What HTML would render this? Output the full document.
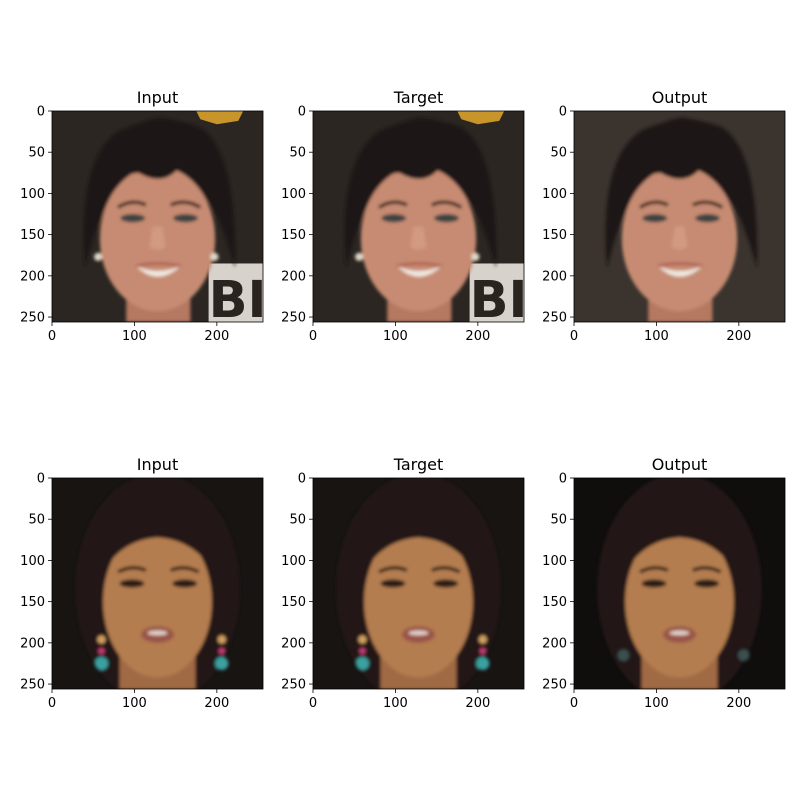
<!DOCTYPE html>
<html><head><meta charset="utf-8"><style>
body{margin:0;background:#fff;}
svg{display:block;font-family:"DejaVu Sans","Liberation Sans",sans-serif;}
</style></head><body>
<svg id="fig" width="800" height="800" viewBox="0 0 800 800" xmlns="http://www.w3.org/2000/svg">
<defs>
<filter id="bs" x="-20%" y="-20%" width="140%" height="140%"><feGaussianBlur stdDeviation="2"/></filter>
<clipPath id="cp"><rect x="0" y="0" width="256" height="256"/></clipPath>
</defs>
</svg>
<script>
const titles = ["Input","Target","Output","Input","Target","Output"];
const xTicks = [0,100,200];
const yTicks = [0,50,100,150,200,250];
const imgSize = 256;
const colLeft = [52,313,574];
const rowTop = [111,478];
const S = 211/256;
const NS = "http://www.w3.org/2000/svg";
const svg = document.getElementById('fig');
function el(t,a,p){const e=document.createElementNS(NS,t);for(const k in a)e.setAttribute(k,a[k]);(p||svg).appendChild(e);return e;}

function faceTop(g, output){
  el('rect',{x:0,y:0,width:256,height:256,fill:output?'#3a332e':'#2b2622'},g);
  if(!output){
    el('path',{d:'M175 0 L232 0 L226 12 L200 16 L180 10 Z',fill:'#c8952a'},g);
    el('rect',{x:190,y:185,width:66,height:71,fill:'#d8d2cc'},g);
    el('text',{x:190,y:250,'font-size':62,'font-weight':'bold',fill:'#2a2420','font-family':'DejaVu Sans'},g).textContent='BI';
  }
  const f=el('g',{filter:'url(#bs)'},g);
  el('rect',{x:90,y:215,width:78,height:41,fill:'#b57860'},f);
  el('path',{d:'M40 190 Q30 60 80 25 Q130 0 180 20 Q225 50 222 190 Q205 130 190 110 L70 110 Q55 130 40 190 Z',fill:'#1e1612'},f);
  el('ellipse',{cx:128,cy:155,rx:70,ry:88,fill:'#c68b72'},f);
  el('path',{d:'M52 110 Q60 20 130 8 Q210 15 212 105 Q195 65 160 60 Q140 95 105 75 Q80 75 62 110 Z',fill:'#1e1612'},f);
  el('ellipse',{cx:98,cy:130,rx:15,ry:5,fill:'#3e4242'},f);
  el('ellipse',{cx:162,cy:130,rx:15,ry:5,fill:'#3e4242'},f);
  el('path',{d:'M80 117 Q97 106 114 114',stroke:'#3a2418','stroke-width':4,fill:'none'},f);
  el('path',{d:'M144 114 Q162 106 180 117',stroke:'#3a2418','stroke-width':4,fill:'none'},f);
  el('path',{d:'M122 140 L118 165 Q128 172 138 165 L134 140',fill:'#d29a80'},f);
  el('path',{d:'M102 188 Q128 200 156 188 Q128 214 102 188 Z',fill:'#f0e8e0'},f);
  el('path',{d:'M102 188 Q128 182 156 188',stroke:'#b05a50','stroke-width':3,fill:'none'},f);
  if(!output){el('circle',{cx:56,cy:177,r:5,fill:'#e0d8c8'},f);el('circle',{cx:197,cy:177,r:5,fill:'#e0d8c8'},f);}
}
function faceBot(g, output){
  el('rect',{x:0,y:0,width:256,height:256,fill:output?'#0f0e0d':'#171412'},g);
  const f=el('g',{filter:'url(#bs)'},g);
  el('ellipse',{cx:128,cy:135,rx:100,ry:140,fill:'#201812'},f);
  el('rect',{x:82,y:205,width:92,height:51,fill:'#a06a45'},f);
  el('ellipse',{cx:128,cy:150,rx:66,ry:92,fill:'#b47d50'},f);
  el('path',{d:'M58 120 Q65 45 128 38 Q192 45 200 120 Q175 75 128 72 Q82 75 58 120 Z',fill:'#201812'},f);
  el('ellipse',{cx:97,cy:128,rx:15,ry:5,fill:'#2a1e18'},f);
  el('ellipse',{cx:161,cy:128,rx:15,ry:5,fill:'#2a1e18'},f);
  el('path',{d:'M80 114 Q97 105 114 112',stroke:'#2a1a12','stroke-width':4,fill:'none'},f);
  el('path',{d:'M144 112 Q161 105 178 114',stroke:'#2a1a12','stroke-width':4,fill:'none'},f);
  el('ellipse',{cx:128,cy:190,rx:20,ry:10,fill:'#9a5548'},f);
  el('ellipse',{cx:128,cy:188,rx:12,ry:3,fill:'#e0d0c8'},f);
  if(!output){
    [60,206].forEach(x=>{el('circle',{cx:x,cy:196,r:5,fill:'#d0a060'},f);el('circle',{cx:x,cy:210,r:4,fill:'#c03a70'},f);el('circle',{cx:x,cy:225,r:8,fill:'#3aa0a0'},f);});
  } else {
    [60,206].forEach(x=>{el('circle',{cx:x,cy:215,r:7,fill:'#3a5050'},f);});
  }
}

titles.forEach((t,i)=>{
  const r=Math.floor(i/3), c=i%3;
  const x0=colLeft[c], y0=rowTop[r];
  const ax=el('g',{});
  
  
  const img=el('g',{transform:`translate(${x0},${y0}) scale(${S})`,'clip-path':'url(#cp)'},ax);
  
  
  if(r===0) faceTop(img, c===2); else faceBot(img, c===2);
  const W=imgSize*S;
  el('rect',{x:x0,y:y0,width:W,height:W,fill:'none',stroke:'#000','stroke-width':0.8},ax);
  const tt=el('text',{x:x0+W/2,y:y0-8,'text-anchor':'middle','font-size':16},ax);
  
  
  tt.textContent=t;
  xTicks.forEach(v=>{
    const x=x0+v*S;
    el('line',{x1:x,y1:y0+W,x2:x,y2:y0+W+4,stroke:'#000','stroke-width':0.8},ax);
    const l=el('text',{x:x,y:y0+W+18,'text-anchor':'middle','font-size':13},ax);
    
    
    l.textContent=v;
  });
  yTicks.forEach(v=>{
    const y=y0+v*S;
    el('line',{x1:x0-4,y1:y,x2:x0,y2:y,stroke:'#000','stroke-width':0.8},ax);
    const l=el('text',{x:x0-7,y:y+4.5,'text-anchor':'end','font-size':13},ax);
    
    
    l.textContent=v;
  });
});
</script>
</body></html>
